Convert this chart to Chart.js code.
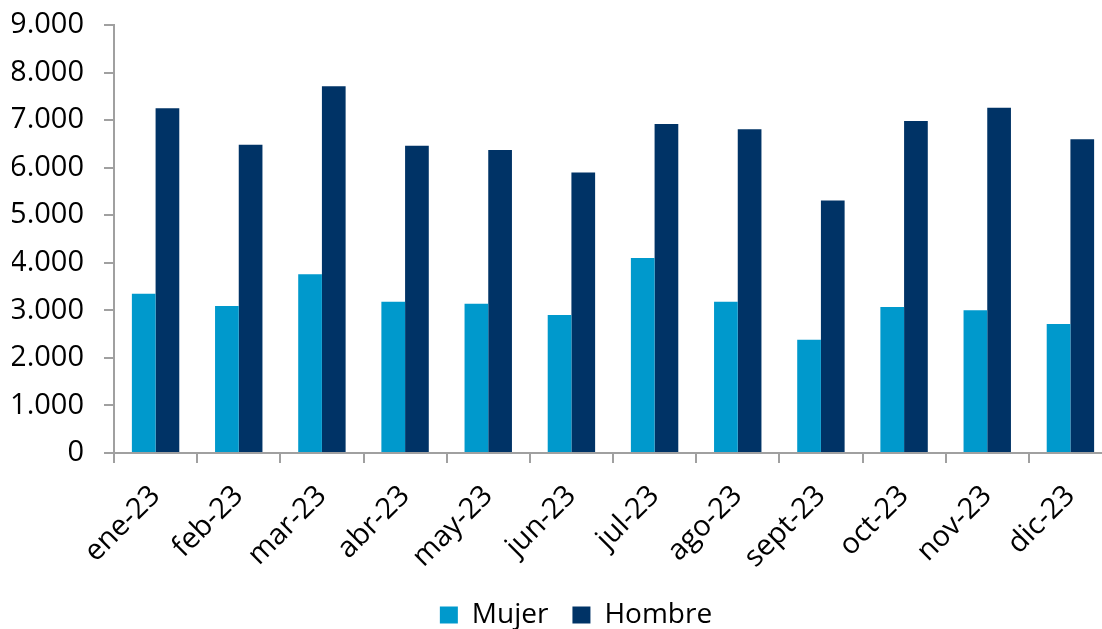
<!DOCTYPE html>
<html>
<head>
<meta charset="utf-8">
<script src="https://cdn.jsdelivr.net/npm/chart.js@4/dist/chart.umd.min.js"></script>
<style>
  html, body { margin: 0; padding: 0; background: #fff; overflow: hidden; }
  #wrap { position: relative; width: 1112px; height: 629px; }
</style>
</head>
<body>
<div id="wrap"><canvas id="grafico"></canvas></div>
<script>
// Datos
const meses = ["ene-23", "feb-23", "mar-23", "abr-23", "may-23", "jun-23",
               "jul-23", "ago-23", "sept-23", "oct-23", "nov-23", "dic-23"];
const mujer = [3350, 3090, 3760, 3180, 3140, 2900, 4100, 3180, 2380, 3070, 3000, 2710];
const hombre = [7250, 6480, 7710, 6460, 6370, 5900, 6920, 6810, 5310, 6980, 7260, 6600];
const ejeY = { min: 0, max: 9000, paso: 1000 };

const fuente = "'Open Sans', sans-serif";
const gris = "#a0a0a0";

// Formato con punto de miles
const formatoMiles = (v) => String(v).replace(/\B(?=(\d{3})+(?!\d))/g, ".");

// Desplaza un poco la leyenda para centrarla como en el original
const moverLeyenda = {
    id: "moverLeyenda",
    afterLayout(chart) {
        chart.legend.left += 14;
        chart.legend.right += 14;
    }
};

new Chart(document.getElementById("grafico"), {
    type: "bar",
    data: {
        labels: meses,
        datasets: [
            { label: "Mujer", data: mujer, backgroundColor: "#0099cc" },
            { label: "Hombre", data: hombre, backgroundColor: "#003366" }
        ]
    },
    plugins: [moverLeyenda],
    options: {
        responsive: true,
        maintainAspectRatio: false,
        animation: false,
        layout: { padding: { top: 0, left: 12, right: 0, bottom: -10 } },
        datasets: { bar: { barPercentage: 1, categoryPercentage: 0.57 } },
        plugins: {
            tooltip: { enabled: false },
            legend: {
                position: "bottom",
                labels: {
                    font: { family: fuente, size: 28 },
                    color: "#000",
                    boxWidth: 18,
                    boxHeight: 17,
                    padding: 24
                }
            }
        },
        scales: {
            x: {
                grid: { drawOnChartArea: false, color: gris, lineWidth: 2, tickLength: 10, offset: true },
                border: { color: gris, width: 2 },
                ticks: {
                    font: { family: fuente, size: 29 },
                    color: "#000",
                    minRotation: 45,
                    maxRotation: 45,
                    padding: 16
                },
                // que las etiquetas giradas no empujen el área del gráfico
                afterFit: (eje) => { eje.paddingLeft = 0; eje.paddingRight = 0; eje.height = 124; }
            },
            y: {
                min: ejeY.min,
                max: ejeY.max,
                grid: { drawOnChartArea: false, color: gris, lineWidth: 2, tickLength: 10 },
                border: { color: gris, width: 2 },
                ticks: {
                    stepSize: ejeY.paso,
                    font: { family: fuente, size: 29 },
                    color: "#000",
                    padding: 20,
                    callback: (v) => formatoMiles(v)
                },
                afterFit: (eje) => { eje.width = 102; eje.paddingTop = 25; eje.paddingBottom = 0; }
            }
        }
    }
});
</script>
</body>
</html>
